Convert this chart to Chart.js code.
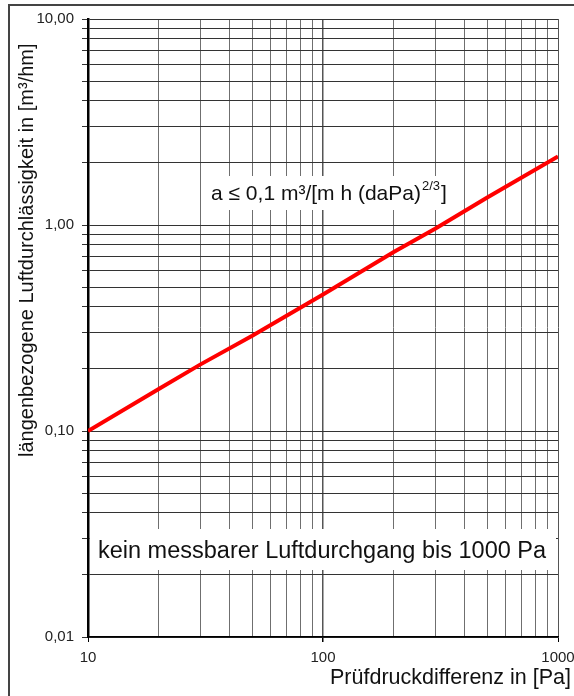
<!DOCTYPE html>
<html>
<head>
<meta charset="utf-8">
<script src="https://cdn.jsdelivr.net/npm/chart.js@4/dist/chart.umd.min.js"></script>
<style>
  html, body { margin: 0; padding: 0; background: #fff; }
  #wrap { width: 574px; height: 696px; position: relative; }
</style>
</head>
<body>
<div id="wrap"><canvas id="kurve" width="574" height="696"></canvas></div>
<script>
const druck = [10, 20, 30, 50, 100, 200, 300, 500, 1000];
const luft = [0.10, 0.16, 0.21, 0.29, 0.46, 0.74, 0.96, 1.36, 2.15];

const xTicks = [10, 20, 30, 40, 50, 60, 70, 80, 90, 100, 200, 300, 400, 500, 600, 700, 800, 900, 1000];
const yTicks = [0.01, 0.02, 0.03, 0.04, 0.05, 0.06, 0.07, 0.08, 0.09,
    0.1, 0.2, 0.3, 0.4, 0.5, 0.6, 0.7, 0.8, 0.9,
    1, 2, 3, 4, 5, 6, 7, 8, 9, 10];
const xLabels = { 10: '10', 100: '100', 1000: '1000' };
const yLabels = { 0.01: '0,01', 0.1: '0,10', 1: '1,00', 10: '10,00' };

const FONT = '"Liberation Sans", Arial, sans-serif';

//Rahmen und Beschriftungen
const beschriftung = {
    id: 'beschriftung',
    beforeDraw(chart) {
        const c = chart.ctx;
        c.save();
        c.strokeStyle = '#444';
        c.lineWidth = 2;
        c.beginPath();
        c.moveTo(9, 696);
        c.lineTo(9, 5);
        c.lineTo(574, 5);
        c.stroke();
        c.restore();
    },
    beforeDatasetsDraw(chart) {
        const c = chart.ctx;
        c.save();
        c.fillStyle = '#fff';
        c.fillRect(206, 176, 246, 34);
        c.fillRect(90, 529, 466, 41);

        c.fillStyle = '#111';
        c.textBaseline = 'alphabetic';
        c.textAlign = 'left';
        c.font = '21px ' + FONT;
        const teil1 = 'a \u2264 0,1 m\u00b3/[m h (daPa)';
        let x = 211;
        c.fillText(teil1, x, 200);
        x += c.measureText(teil1).width;
        c.font = '13px ' + FONT;
        c.fillText('2/3', x + 1, 190);
        x += c.measureText('2/3').width + 2;
        c.font = '21px ' + FONT;
        c.fillText(']', x, 200);

        c.font = '23.5px ' + FONT;
        c.textAlign = 'center';
        c.fillText('kein messbarer Luftdurchgang bis 1000 Pa', 322, 558);
        c.restore();
    },
    afterDraw(chart) {
        const c = chart.ctx;
        c.save();
        c.fillStyle = '#111';
        c.font = '21.5px ' + FONT;
        c.textAlign = 'right';
        c.textBaseline = 'alphabetic';
        c.fillText('Pr\u00fcfdruckdifferenz in [Pa]', 571, 684);

        c.font = '20px ' + FONT;
        c.translate(33, 457);
        c.rotate(-Math.PI / 2);
        c.textAlign = 'left';
        c.fillText('l\u00e4ngenbezogene Luftdurchl\u00e4ssigkeit in [m\u00b3/hm]', 0, 0);
        c.restore();
    }
};

const ctx = document.getElementById('kurve').getContext('2d');
new Chart(ctx, {
    type: 'line',
    data: {
        datasets: [{
            data: druck.map((p, i) => ({ x: p, y: luft[i] })),
            borderColor: 'rgb(255,0,0)',
            borderWidth: 4,
            pointRadius: 0,
            tension: 0
        }]
    },
    options: {
        responsive: false,
        animation: false,
        layout: { padding: { top: 19, right: 16, left: 0, bottom: 0 } },
        plugins: { legend: { display: false }, tooltip: { enabled: false } },
        scales: {
            x: {
                type: 'logarithmic',
                min: 10,
                max: 1000,
                afterBuildTicks: (s) => { s.ticks = xTicks.map(v => ({ value: v })); },
                afterFit: (s) => { s.height = 59; s.paddingLeft = 0; s.paddingRight = 0; },
                border: { color: '#000', width: 1.5 },
                grid: {
                    color: (c) => c.tick && xLabels[c.tick.value] ? '#555' : '#6f6f6f',
                    lineWidth: (c) => c.tick && c.tick.value === 100 ? 1.5 : 1,
                    tickColor: (c) => c.tick && xLabels[c.tick.value] ? '#000' : 'rgba(0,0,0,0)',
                    tickLength: 5
                },
                ticks: {
                    autoSkip: false,
                    maxRotation: 0,
                    padding: 7,
                    color: '#222',
                    font: { family: FONT, size: 15 },
                    callback: (v) => xLabels[v] || ''
                }
            },
            y: {
                type: 'logarithmic',
                min: 0.01,
                max: 10,
                afterBuildTicks: (s) => { s.ticks = yTicks.map(v => ({ value: v })); },
                afterFit: (s) => { s.width = 88; s.paddingTop = 0; s.paddingBottom = 0; },
                border: { color: '#000', width: 2.5 },
                grid: {
                    color: '#333',
                    lineWidth: 1,
                    tickColor: '#333',
                    tickLength: 6
                },
                ticks: {
                    autoSkip: false,
                    padding: 8,
                    color: '#222',
                    font: { family: FONT, size: 15 },
                    callback: (v) => xLabels[v] === undefined && !yLabels[v] ? '' : yLabels[v]
                }
            }
        }
    },
    plugins: [beschriftung]
});
</script>
</body>
</html>
